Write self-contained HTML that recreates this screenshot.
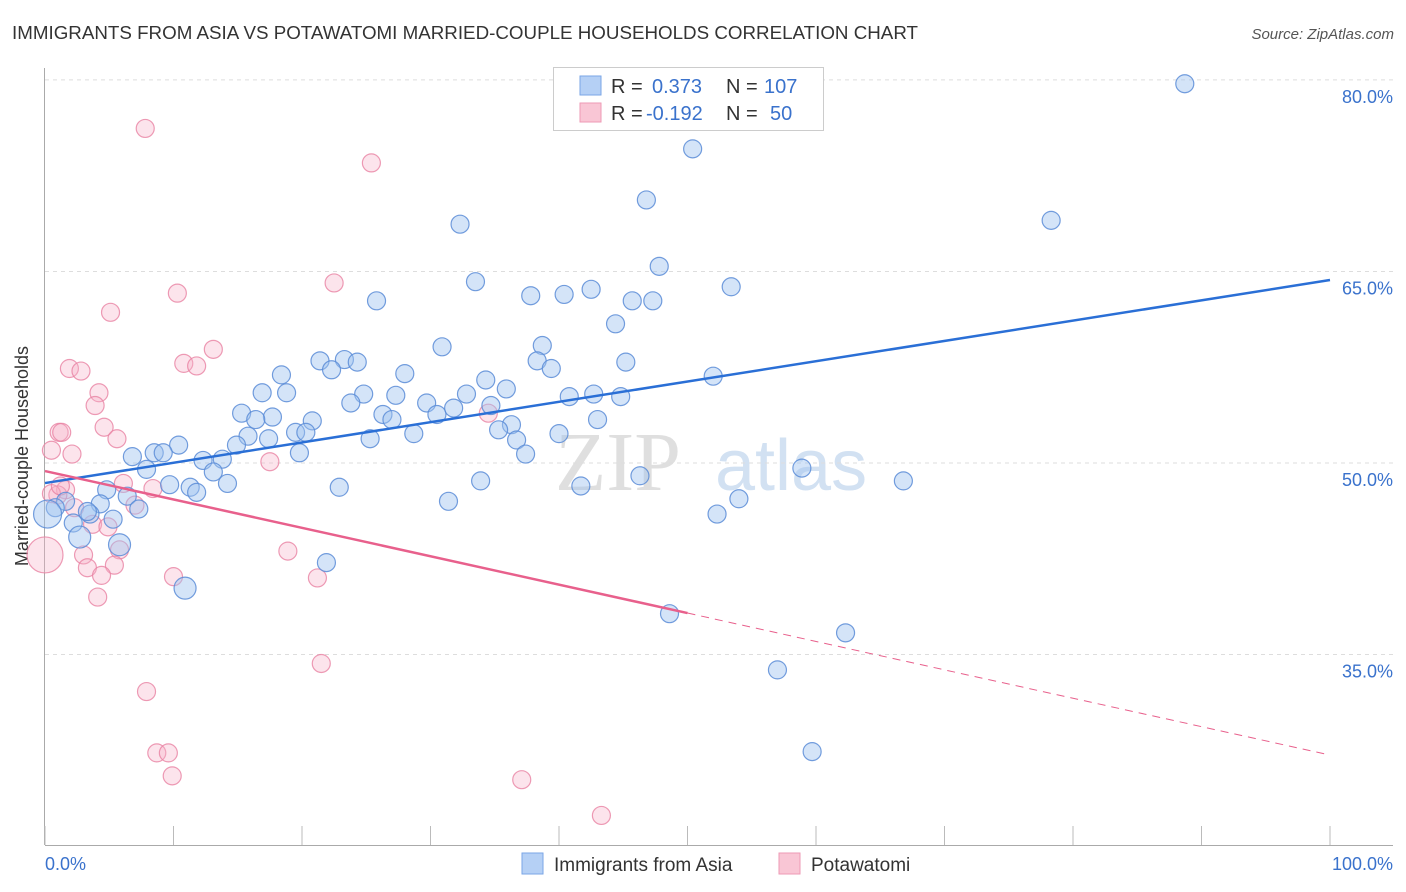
<!DOCTYPE html>
<html><head><meta charset="utf-8"><style>
body{margin:0;background:#fff;font-family:"Liberation Sans",sans-serif;}
svg{display:block}
</style></head><body>
<svg id="chart" width="1406" height="892">
<text x="12" y="39" font-size="18" fill="#333" textLength="906" lengthAdjust="spacingAndGlyphs">IMMIGRANTS FROM ASIA VS POTAWATOMI MARRIED-COUPLE HOUSEHOLDS CORRELATION CHART</text>
<text x="1394" y="39" font-size="15" fill="#555" font-style="italic" text-anchor="end">Source: ZipAtlas.com</text>
<text x="28" y="456" font-size="18" fill="#333" text-anchor="middle" transform="rotate(-90 28 456)">Married-couple Households</text>
<g><text x="555" y="490" font-size="84" fill="#d8d8d8" font-family="Liberation Serif,serif" opacity="0.8">ZIP</text><text x="715" y="490" font-size="72" fill="#c8daf0" opacity="0.8">atlas</text></g>
<g id="grid"></g><g id="axes"></g><g id="pts"></g><g id="lines"></g>
<g>
<rect x="553.5" y="67.5" width="270" height="63" fill="#fff" stroke="#ccc"/>
<rect x="580" y="76" width="21" height="19" fill="#b5d0f5" stroke="#7aa6e6"/>
<rect x="580" y="103" width="21" height="19" fill="#f9c6d5" stroke="#ee9ab5"/>
<text x="611" y="93" font-size="20" fill="#333">R = </text><text x="652" y="93" font-size="20" fill="#3a72cc">0.373</text>
<text x="726" y="93" font-size="20" fill="#333">N = </text><text x="764" y="93" font-size="20" fill="#3a72cc">107</text>
<text x="611" y="120" font-size="20" fill="#333">R = </text><text x="646" y="120" font-size="20" fill="#3a72cc">-0.192</text>
<text x="726" y="120" font-size="20" fill="#333">N = </text><text x="770" y="120" font-size="20" fill="#3a72cc">50</text>
</g>
<g>
<rect x="522" y="853" width="21" height="21" fill="#b5d0f5" stroke="#7aa6e6"/>
<text x="554" y="871" font-size="19" fill="#333">Immigrants from Asia</text>
<rect x="779" y="853" width="21" height="21" fill="#f9c6d5" stroke="#ee9ab5"/>
<text x="811" y="871" font-size="19" fill="#333">Potawatomi</text>
</g>
</svg>
<script>
const yTicks=[35,50,65,80];
const yTickLabels=["35.0%","50.0%","65.0%","80.0%"];
const xTickLabels=["0.0%","100.0%"];
const blueX=[88.7,50.4,46.8,78.3,32.3,47.8,33.5,53.4,42.5,40.4,37.8,25.8,45.7,47.3,44.4,38.7,30.9,21.4,23.3,24.3,38.3,45.2,39.4,22.3,18.4,28.0,52.0,34.3,16.9,18.8,24.8,27.3,32.8,35.9,40.8,42.7,44.8,23.8,29.7,31.8,34.7,15.3,17.7,26.3,27.0,30.5,43.0,20.8,16.4,36.3,35.3,19.5,20.3,15.8,17.4,28.7,25.3,40.0,36.7,14.9,10.4,6.8,8.5,9.2,19.8,37.4,12.3,13.8,7.9,13.1,58.9,14.2,9.7,11.3,11.8,22.9,33.9,46.3,66.8,41.7,4.8,6.4,31.4,54.0,52.3,4.3,7.3,1.6,0.8,0.2,3.5,5.3,2.2,2.7,5.8,21.9,10.9,48.6,62.3,57.0,59.7,3.3];
const blueY=[79.7,74.6,70.6,69.0,68.7,65.4,64.2,63.8,63.6,63.2,63.1,62.7,62.7,62.7,60.9,59.2,59.1,58.0,58.1,57.9,58.0,57.9,57.4,57.3,56.9,57.0,56.8,56.5,55.5,55.5,55.4,55.3,55.4,55.8,55.2,55.4,55.2,54.7,54.7,54.3,54.5,53.9,53.6,53.8,53.4,53.8,53.4,53.3,53.4,53.0,52.6,52.4,52.4,52.1,51.9,52.3,51.9,52.3,51.8,51.4,51.4,50.5,50.8,50.8,50.8,50.7,50.2,50.3,49.5,49.3,49.6,48.4,48.3,48.1,47.7,48.1,48.6,49.0,48.6,48.2,47.9,47.4,47.0,47.2,46.0,46.8,46.4,47.0,46.5,46.0,46.0,45.6,45.3,44.2,43.6,42.2,40.2,38.2,36.7,33.8,27.4,46.2];
const blueR=[9,9,9,9,9,9,9,9,9,9,9,9,9,9,9,9,9,9,9,9,9,9,9,9,9,9,9,9,9,9,9,9,9,9,9,9,9,9,9,9,9,9,9,9,9,9,9,9,9,9,9,9,9,9,9,9,9,9,9,9,9,9,9,9,9,9,9,9,9,9,9,9,9,9,9,9,9,9,9,9,9,9,9,9,9,9,9,9,9,14,9,9,9,11,11,9,11,9,9,9,9,9];
const pinkX=[7.8,25.4,10.3,22.5,5.1,13.1,10.8,11.8,1.9,2.8,4.2,3.9,4.6,1.1,1.3,5.6,0.5,2.1,17.5,1.6,6.1,8.4,34.5,1.0,2.3,7.0,3.7,4.9,18.9,3.0,5.8,3.3,5.4,4.4,10.0,21.2,4.1,0.0,21.5,7.9,8.7,9.6,9.9,37.1,43.3,0.5,1.2];
const pinkY=[76.2,73.5,63.3,64.1,61.8,58.9,57.8,57.6,57.4,57.2,55.5,54.5,52.8,52.4,52.4,51.9,51.0,50.7,50.1,47.9,48.4,48.0,53.9,47.5,46.5,46.7,45.2,45.0,43.1,42.8,43.2,41.8,42.0,41.2,41.1,41.0,39.5,42.8,34.3,32.1,27.3,27.3,25.5,25.2,22.4,47.6,48.2];
const pinkR=[9,9,9,9,9,9,9,9,9,9,9,9,9,9,9,9,9,9,9,9,9,9,9,9,9,9,9,9,9,9,9,9,9,9,9,9,9,18,9,9,9,9,9,9,9,9,9];
const blueLine=[[0,48.43],[100,64.33]];
const pinkLine=[[0,49.37],[50,38.25],[100,27.13]];

const NS="http://www.w3.org/2000/svg";
const X=v=>45+v*12.85;
const Y=v=>463-(v-50)*12.77;
function mk(tag,attrs,parent){const e=document.createElementNS(NS,tag);for(const k in attrs)e.setAttribute(k,attrs[k]);parent.appendChild(e);return e;}
const grid=document.getElementById('grid'),axes=document.getElementById('axes'),pts=document.getElementById('pts'),lines=document.getElementById('lines');
yTicks.forEach((t,i)=>{
  const l=mk('line',{x1:45,x2:1393,y1:Y(t),y2:Y(t),stroke:'#ddd','stroke-dasharray':'4,4'},grid);
  
  
  const tx=mk('text',{x:1393,y:Y(t)+23,'font-size':18,fill:'#3a72cc','text-anchor':'end'},axes);
  tx.textContent=yTickLabels[i];
  
  
});
const ya=mk('line',{x1:44.5,x2:44.5,y1:68,y2:845,stroke:'#aaa'},axes);


const xa=mk('line',{x1:45,x2:1393,y1:845.5,y2:845.5,stroke:'#aaa'},axes);


for(let i=0;i<=10;i++){
  const tk=mk('line',{x1:X(i*10),x2:X(i*10),y1:826,y2:845,stroke:'#bbb'},axes);
  
  
}
[[0,'start',45],[100,'end',1393]].forEach((a,i)=>{
  const t=mk('text',{x:a[2],y:870,'font-size':18,fill:'#3a72cc','text-anchor':a[1]},axes);
  t.textContent=xTickLabels[i];
  
  
});
function dots(xs,ys,rs,fill,stroke,name){
  xs.forEach((x,i)=>{
    const c=mk('circle',{cx:X(x),cy:Y(ys[i]),r:rs[i],fill:fill,stroke:stroke,'stroke-width':1.2},pts);
    
    
  });
}
dots(pinkX,pinkY,pinkR,'rgba(246,178,200,0.35)','rgba(232,130,162,0.8)','potawatomi-point');
dots(blueX,blueY,blueR,'rgba(160,195,240,0.45)','rgba(90,140,215,0.85)','asia-point');
const bl=mk('line',{x1:X(blueLine[0][0]),y1:Y(blueLine[0][1]),x2:X(blueLine[1][0]),y2:Y(blueLine[1][1]),stroke:'#2a6fd6','stroke-width':2.5},lines);


const pl=mk('line',{x1:X(pinkLine[0][0]),y1:Y(pinkLine[0][1]),x2:X(pinkLine[1][0]),y2:Y(pinkLine[1][1]),stroke:'#e8608c','stroke-width':2.5},lines);


const pd=mk('line',{x1:X(pinkLine[1][0]),y1:Y(pinkLine[1][1]),x2:X(pinkLine[2][0]),y2:Y(pinkLine[2][1]),stroke:'#e8608c','stroke-width':1,'stroke-dasharray':'8,6'},lines);


</script>
</body></html>
